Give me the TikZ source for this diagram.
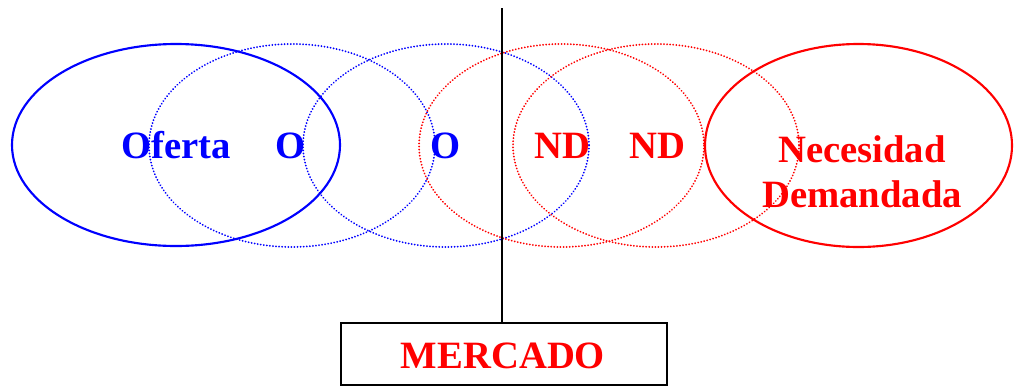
\documentclass[tikz,border=0pt]{standalone}
\usepackage{fontspec}
\setmainfont{Liberation Serif}
\begin{document}
\begin{tikzpicture}[x=0.75pt,y=-0.75pt,
  solidring/.style={line width=1.6pt},
  dotring/.style={line width=1.5pt, dash pattern=on 0.01pt off 2.3pt, line cap=round},
  lbl/.style={font=\fontsize{29}{34}\selectfont\bfseries, inner sep=0pt, anchor=base}]
\useasboundingbox (0,0) rectangle (1016,386);
% ellipses
\draw[blue, solidring] (176,145) ellipse [x radius=164, y radius=101];
\draw[blue, dotring] (292,145.5) ellipse [x radius=143, y radius=101.5];
\draw[blue, dotring] (446,145.5) ellipse [x radius=143, y radius=101.5];
\draw[red, dotring] (561.5,145.5) ellipse [x radius=142.5, y radius=101.5];
\draw[red, dotring] (656,145.5) ellipse [x radius=143, y radius=101.5];
\draw[red, solidring] (858.5,145.5) ellipse [x radius=153.5, y radius=101.5];
% labels
\node[lbl, blue] (oferta) at (176,158) {Oferta};
\node[lbl, blue] (o1) at (291,158) {O};
\node[lbl, blue] (o2) at (446,158) {O};
\node[lbl, red] (nd1) at (562,158) {ND};
\node[lbl, red] (nd2) at (657,158) {ND};
\node[lbl, red, align=center, font=\fontsize{29}{33.75}\selectfont\bfseries] (nec) at (862,207) {Necesidad\\Demandada};
% market
\node[draw, line width=1.5pt, minimum width=326*0.75pt, minimum height=62*0.75pt, inner sep=0pt] (box) at (503.5,353.5) {};
\node[lbl, red] (merc) at (503,368) {MERCADO};
\coordinate (top) at (502,8);
\draw[line width=1.5pt] (top) -- (box.north -| top);
\end{tikzpicture}
\end{document}
